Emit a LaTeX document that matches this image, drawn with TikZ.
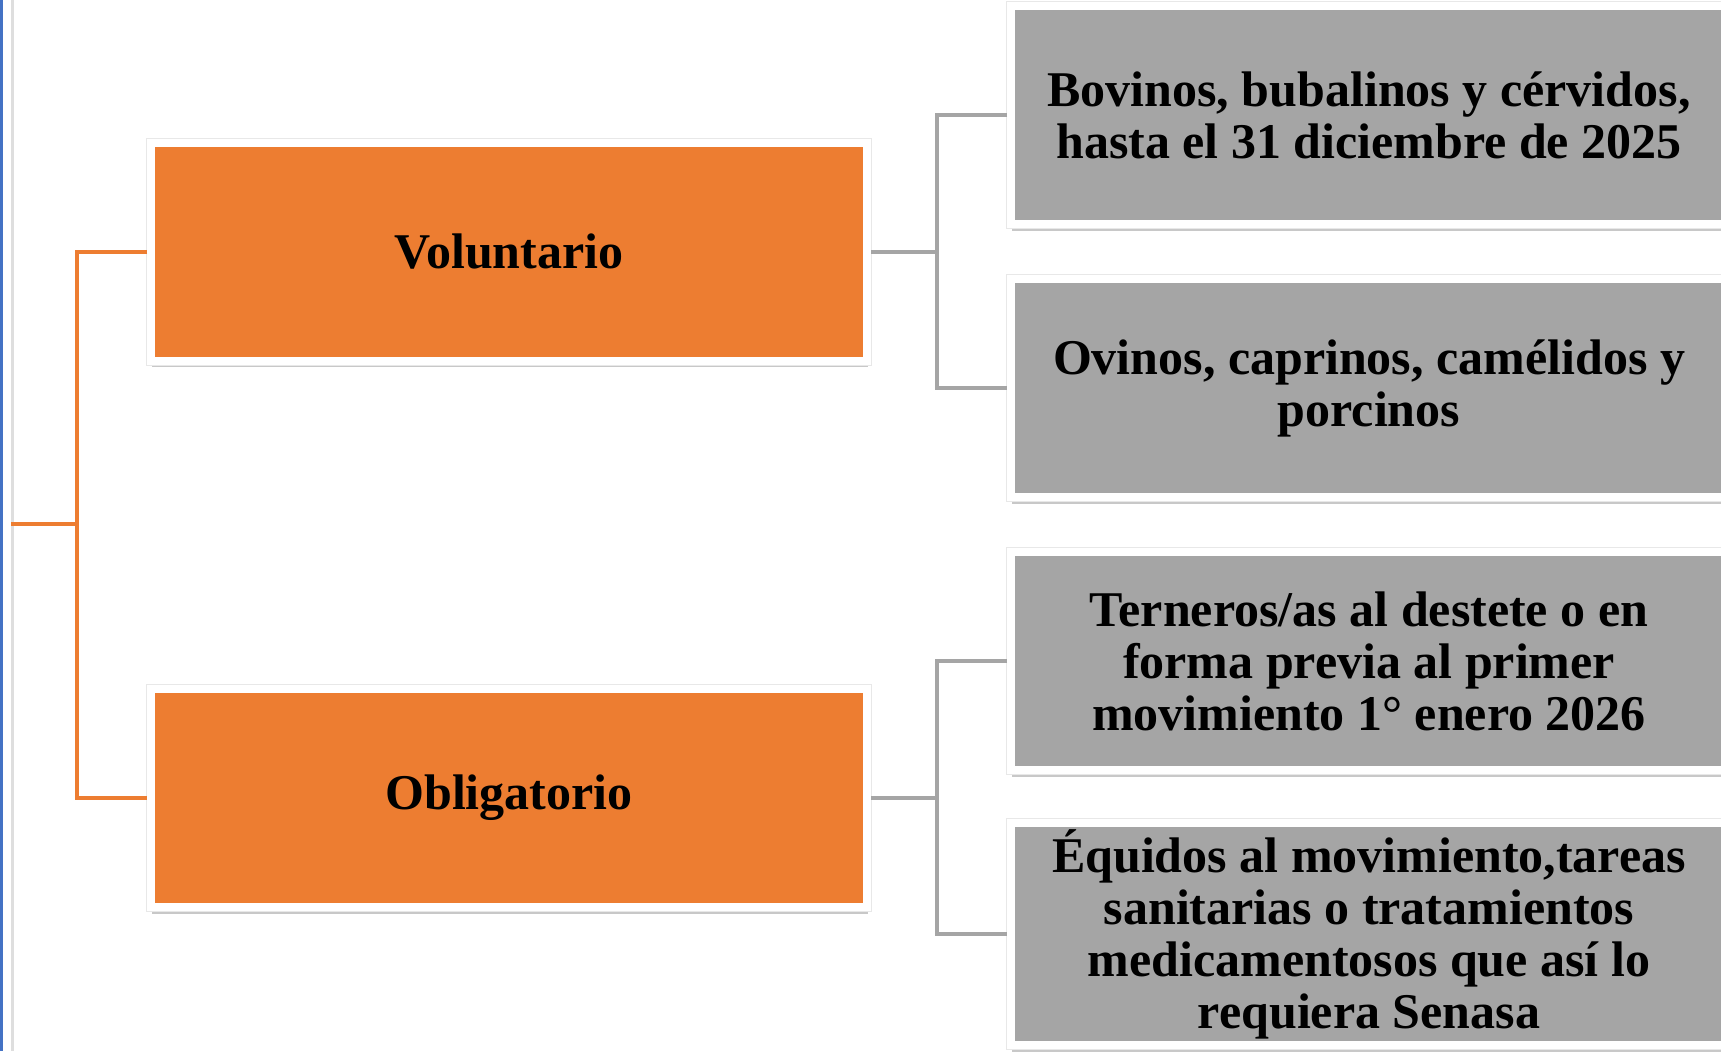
\documentclass[tikz,border=0pt]{standalone}
\usepackage{fontspec}
\setmainfont{Liberation Serif}
\usetikzlibrary{shadows,calc}
\definecolor{orng}{HTML}{ED7D31}
\definecolor{gry}{HTML}{A5A5A5}
\definecolor{edgeblue}{HTML}{4472C4}
\tikzset{
  boxbase/.style={rectangle, draw=white, line width=4pt, minimum width=358pt, minimum height=109pt,
    align=center, font=\fontsize{25pt}{26pt}\selectfont\bfseries, text=black,
    drop shadow={shadow xshift=0.4pt, shadow yshift=-3.4pt, opacity=0.3, fill=black!70},
    preaction={draw=black!9, line width=5pt}},
  catbox/.style={boxbase, fill=orng},
  itembox/.style={boxbase, fill=gry},
  oline/.style={draw=orng, line width=2pt},
  gline/.style={draw=gry, line width=2pt},
}
\begin{document}
\begin{tikzpicture}[x=0.5pt, y=-0.5pt]
\useasboundingbox (0,0) rectangle (1721,1051);
\clip (0,0) rectangle (1721,1051);
\fill[white] (0,0) rectangle (1721,1051);
\fill[edgeblue] (0,0) rectangle (3,1051);
\fill[black!13] (11,0) rectangle (13.5,1051);

\node[catbox] (v) at (509,251.5) {Voluntario};
\node[catbox] (o) at (509,798) {Obligatorio};

\node[itembox] (b1) at (1369,115) {Bovinos, bubalinos y cérvidos,\\hasta el 31 diciembre de 2025};
\node[itembox] (b2) at (1369,388) {Ovinos, caprinos, camélidos y\\porcinos};
\node[itembox] (b3) at (1369,661) {Terneros/as al destete o en\\forma previa al primer\\movimiento 1° enero 2026};
\node[itembox] (b4) at (1369,934) {Équidos al movimiento,tareas\\sanitarias o tratamientos\\medicamentosos que así lo\\requiera Senasa};

\coordinate (root) at (11,524);
\coordinate (jo) at (77,524);
\coordinate (jg) at (937,0);

\draw[oline] (root) -- (jo);
\draw[oline, line join=miter] (v.west) -- (v.west -| jo) -- (o.west -| jo) -- (o.west);

\draw[gline] (v.east) -- (v.east -| jg);
\draw[gline] (b1.west) -- (b1.west -| jg) -- (b2.west -| jg) -- (b2.west);
\draw[gline] (o.east) -- (o.east -| jg);
\draw[gline] (b3.west) -- (b3.west -| jg) -- (b4.west -| jg) -- (b4.west);
\end{tikzpicture}
\end{document}
